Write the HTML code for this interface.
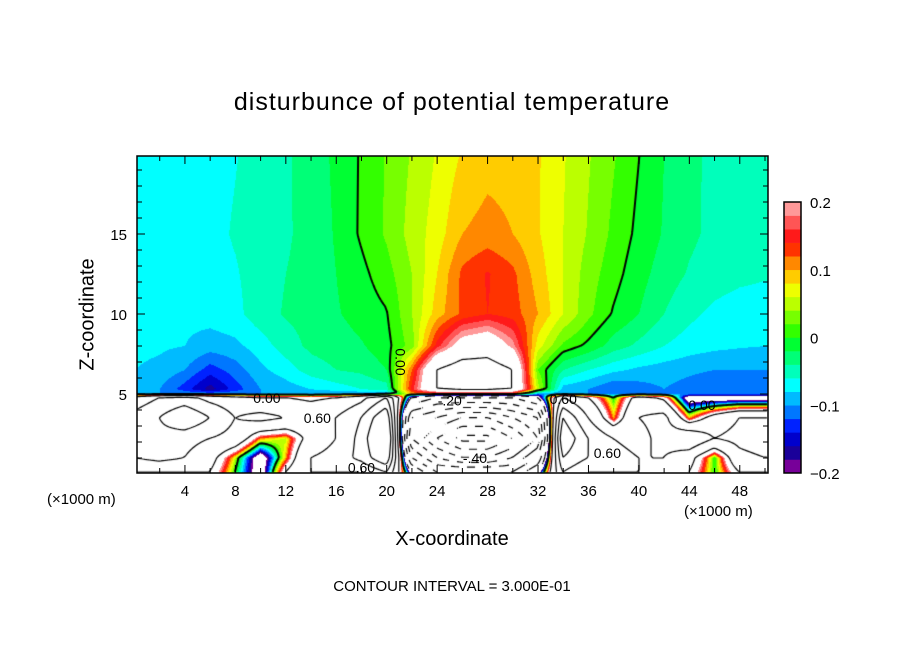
<!DOCTYPE html>
<html><head><meta charset="utf-8">
<style>
body{margin:0;background:#fff;width:904px;height:654px;overflow:hidden;position:relative;font-family:"Liberation Sans",sans-serif;}
.t{position:absolute;color:#000;white-space:nowrap;}
</style></head>
<body>
<div class="t" style="left:0;width:904px;text-align:center;top:88px;font-size:25px;letter-spacing:1px;">disturbunce of potential temperature</div>
<div class="t" style="left:28px;top:303px;font-size:20px;transform:rotate(-90deg);transform-origin:center;width:120px;text-align:center;">Z-coordinate</div>
<div class="t" style="left:0;width:904px;text-align:center;top:528px;font-size:20px;">X-coordinate</div>
<div class="t" style="left:47px;top:491px;font-size:15px;">(×1000 m)</div>
<div class="t" style="left:684px;top:503px;font-size:15px;">(×1000 m)</div>
<div class="t" style="left:0;width:904px;text-align:center;top:578px;font-size:15px;">CONTOUR INTERVAL = 3.000E-01</div>
<canvas id="cv" width="631" height="317" style="position:absolute;left:137px;top:156px;"></canvas>
<svg id="sv" width="904" height="654" style="position:absolute;left:0;top:0;"></svg>
<script>
const xs=[0,2,4,6,8,10,12,14,16,18,20,22,24,26,28,30,32,34,36,38,40,42,44,46,48,50];
const zs=[0.1,1.0,2.2,3.5,4.75,5.0,5.3,6.5,8,10,12.5,15,20];
const r01=[0.3,0.3,0.3,0.3,0.0,-0.3,0.3,0.6,0.6,0.6,0.9,-0.3,-0.9,-0.9,-0.9,-0.9,-0.3,0.9,0.6,0.6,0.6,0.6,0.3,0.0,0.3,0.3];
const r10=[0.6,0.7,0.6,0.4,0.05,-0.3,0.1,0.6,0.7,1.0,1.5,-0.9,-1.5,-1.8,-1.8,-1.5,-0.9,1.2,0.9,0.7,0.6,0.6,0.4,0.0,0.5,0.6];
const r22=[0.9,0.8,0.7,0.6,0.5,0.1,0.05,0.4,0.6,1.0,1.8,-1.5,-2.1,-2.5,-2.5,-2.1,-1.5,1.5,0.9,0.6,0.5,0.7,0.9,0.6,0.7,0.8];
const r35=[0.7,0.9,1.2,0.9,0.6,0.7,0.6,0.5,0.6,0.9,1.5,-1.2,-1.5,-1.8,-1.8,-1.5,-1.2,1.2,0.6,0.1,0.6,0.7,0.1,0.4,0.6,0.6];
const r46=[0.4,0.6,0.7,0.5,0.4,0.3,0.3,0.25,0.3,0.5,0.9,-0.3,-0.6,-0.6,-0.6,-0.6,-0.3,0.6,0.3,0.0,0.4,0.25,-0.3,-0.3,-0.3,-0.3];
const r50=[-0.1,-0.1,-0.1,-0.1,-0.1,-0.1,-0.1,-0.1,-0.1,-0.1,-0.1,0.1,0.1,0.1,0.1,0.1,-0.1,-0.1,-0.1,-0.1,-0.1,-0.1,-0.1,-0.1,-0.1,-0.1];
const r53=[-0.09,-0.1,-0.13,-0.17,-0.13,-0.1,-0.09,-0.08,-0.07,-0.06,-0.05,0.15,0.3,0.35,0.35,0.3,0.05,-0.09,-0.1,-0.12,-0.11,-0.1,-0.11,-0.12,-0.12,-0.12];
const r65=[-0.08,-0.085,-0.1,-0.13,-0.11,-0.085,-0.07,-0.05,-0.04,-0.035,-0.02,0.12,0.3,0.35,0.35,0.3,0.02,-0.04,-0.06,-0.075,-0.085,-0.09,-0.095,-0.1,-0.1,-0.1];
const r80=[-0.075,-0.077,-0.08,-0.09,-0.085,-0.07,-0.05,-0.035,-0.03,-0.022,-0.008,0.03,0.15,0.23,0.25,0.19,0.07,0.015,-0.005,-0.03,-0.045,-0.06,-0.07,-0.075,-0.078,-0.08];
const r100=[-0.075,-0.075,-0.075,-0.072,-0.066,-0.048,-0.038,-0.032,-0.022,-0.012,-0.002,0.04,0.09,0.125,0.14,0.13,0.1,0.06,0.025,-0.002,-0.02,-0.04,-0.055,-0.065,-0.07,-0.07];
const r125=[-0.075,-0.075,-0.074,-0.068,-0.062,-0.05,-0.04,-0.032,-0.02,-0.006,0.012,0.04,0.08,0.125,0.142,0.125,0.09,0.06,0.03,0.008,-0.012,-0.03,-0.042,-0.05,-0.055,-0.058];
const r150=[-0.075,-0.075,-0.072,-0.066,-0.058,-0.05,-0.043,-0.032,-0.018,0.003,0.023,0.048,0.07,0.1,0.108,0.1,0.082,0.06,0.038,0.015,-0.005,-0.022,-0.036,-0.045,-0.05,-0.052];
const r200=[-0.075,-0.075,-0.072,-0.068,-0.061,-0.053,-0.043,-0.03,-0.016,0.002,0.022,0.042,0.062,0.082,0.092,0.092,0.082,0.062,0.042,0.022,0.001,-0.02,-0.035,-0.045,-0.05,-0.052];
const rows=[r01,r10,r22,r35,r46,r50,r53,r65,r80,r100,r125,r150,r200];
const cbColors=["#770099","#1a0099","#0000cc","#0022ff","#0077ff","#00bbff","#00ffff","#00ffbb","#00ff77","#00ff33","#33ff00","#77ff00","#bbff00","#eeff00","#ffcc00","#ff8800","#ff3300","#ff1a1a","#ff5555","#ff9999"];
const xTicks=[4,8,12,16,20,24,28,32,36,40,44,48];
const zTicks=[5,10,15];
const cbTicks=[0.2,0.1,0,-0.1,-0.2];

const X=x=>134.5+x*12.61, Z=z=>474-z*16;
const ix=p=>(p-134.5)/12.61, iz=p=>(474-p)/16;
function seg(arr,v){let i=0;while(i<arr.length-2&&v>arr[i+1])i++;let t=(v-arr[i])/(arr[i+1]-arr[i]);return [i,Math.max(0,Math.min(1,t))];}
function field(x,z){const [i,tx]=seg(xs,x);const [j,tz]=seg(zs,z);
 const a=rows[j][i]*(1-tx)+rows[j][i+1]*tx, b=rows[j+1][i]*(1-tx)+rows[j+1][i+1]*tx;return a*(1-tz)+b*tz;}
function hex(c){return [parseInt(c.substr(1,2),16),parseInt(c.substr(3,2),16),parseInt(c.substr(5,2),16)];}
const cbRGB=cbColors.map(hex);
const cv=document.getElementById('cv');


const ctx=cv.getContext('2d');
const W=631,H=317,img=ctx.createImageData(W,H);
const F=[];
for(let py=0;py<H;py++){F.push([]);for(let px=0;px<W;px++){
 const v=field(ix(137+px+0.5),iz(156+py+0.5));F[py].push(v);
 let c=[255,255,255];
 if(v>=-0.2&&v<0.2){c=cbRGB[Math.min(19,Math.floor((v+0.2)/0.02))];}
 const k=(py*W+px)*4;img.data[k]=c[0];img.data[k+1]=c[1];img.data[k+2]=c[2];img.data[k+3]=255;}}
ctx.putImageData(img,0,0);
ctx.strokeStyle='#000';
const S=2;
for(let L=-9;L<=4;L++){const lv=L*0.3+1e-6;ctx.lineWidth=L===0?2:1.2;ctx.beginPath();
 for(let y=0;y+S<H;y+=S)for(let x=0;x+S<W;x+=S){
  const a=F[y][x],b=F[y][x+S],c=F[y+S][x+S],d=F[y+S][x];
  const pts=[];
  const e=(p,q,x1,y1,x2,y2)=>{if((p<lv)!==(q<lv)){const t=(lv-p)/(q-p);pts.push([x1+(x2-x1)*t,y1+(y2-y1)*t]);}};
  e(a,b,x,y,x+S,y);e(b,c,x+S,y,x+S,y+S);e(d,c,x,y+S,x+S,y+S);e(a,d,x,y,x,y+S);
  if(L<0&&Math.floor((x+y)/8)%2===1)continue;
  for(let k=0;k+1<pts.length;k+=2){ctx.moveTo(pts[k][0],pts[k][1]);ctx.lineTo(pts[k+1][0],pts[k+1][1]);}
 }ctx.stroke();}

const NS='http://www.w3.org/2000/svg',sv=document.getElementById('sv');
function mk(t,at,txt){const e=document.createElementNS(NS,t);for(const k in at)e.setAttribute(k,at[k]);if(txt!==undefined)e.textContent=txt;sv.appendChild(e);return e;}
let fr=mk('rect',{x:137,y:156,width:631,height:317,fill:'none',stroke:'#000','stroke-width':1.5});


for(let x=2;x<=50;x+=2){const big=x%4===0;const l=big?8:5;
 let t=mk('line',{x1:X(x),x2:X(x),y1:473,y2:473-l,stroke:'#000'});
 
 
 let t2=mk('line',{x1:X(x),x2:X(x),y1:156,y2:156+l,stroke:'#000'});
 
 }
for(let z=1;z<=19;z++){const l=z%5===0?8:5;
 let t=mk('line',{x1:137,x2:137+l,y1:Z(z),y2:Z(z),stroke:'#000'});
 
 
 let t2=mk('line',{x1:768,x2:768-l,y1:Z(z),y2:Z(z),stroke:'#000'});
 
 }
xTicks.forEach(v=>{let t=mk('text',{x:X(v),y:496,'text-anchor':'middle','font-size':15,'font-family':'Liberation Sans'},String(v));
 
 });
zTicks.forEach(v=>{let t=mk('text',{x:127,y:Z(v)+6,'text-anchor':'end','font-size':15,'font-family':'Liberation Sans'},String(v));
 
 });
const cbTop=202,cbBot=473,bh=(cbBot-cbTop)/20;
cbColors.forEach((c,i)=>{let r=mk('rect',{x:784,y:cbBot-(i+1)*bh,width:17,height:bh+0.3,fill:c});
 
 });
let cbf=mk('rect',{x:784,y:cbTop,width:17,height:cbBot-cbTop,fill:'none',stroke:'#000','stroke-width':1.5});


cbTicks.forEach(v=>{const y=cbBot-(v+0.2)/0.4*(cbBot-cbTop);
 let t=mk('text',{x:810,y:y+6,'font-size':15,'font-family':'Liberation Sans'},v<0?'−'+Math.abs(v):String(v));
 
 });
const labs=[[10.5,4.75,'0.00'],[14.5,3.5,'0.60'],[18,0.4,'0.60'],[27,1.0,'-.40'],[34,4.7,'0.60'],[37.5,1.3,'0.60'],[45,4.3,'0.00'],[25,4.6,'-.20']];
labs.forEach(l=>{let t=mk('text',{x:X(l[0]),y:Z(l[1])+5,'text-anchor':'middle','font-size':14,'font-family':'Liberation Sans'},l[2]);
 
 });
let zl=mk('text',{x:0,y:0,'font-size':14,'font-family':'Liberation Sans',transform:`translate(${X(20.7)},${Z(7)}) rotate(90)`,'text-anchor':'middle'},'0.00');


</script>
</body></html>
